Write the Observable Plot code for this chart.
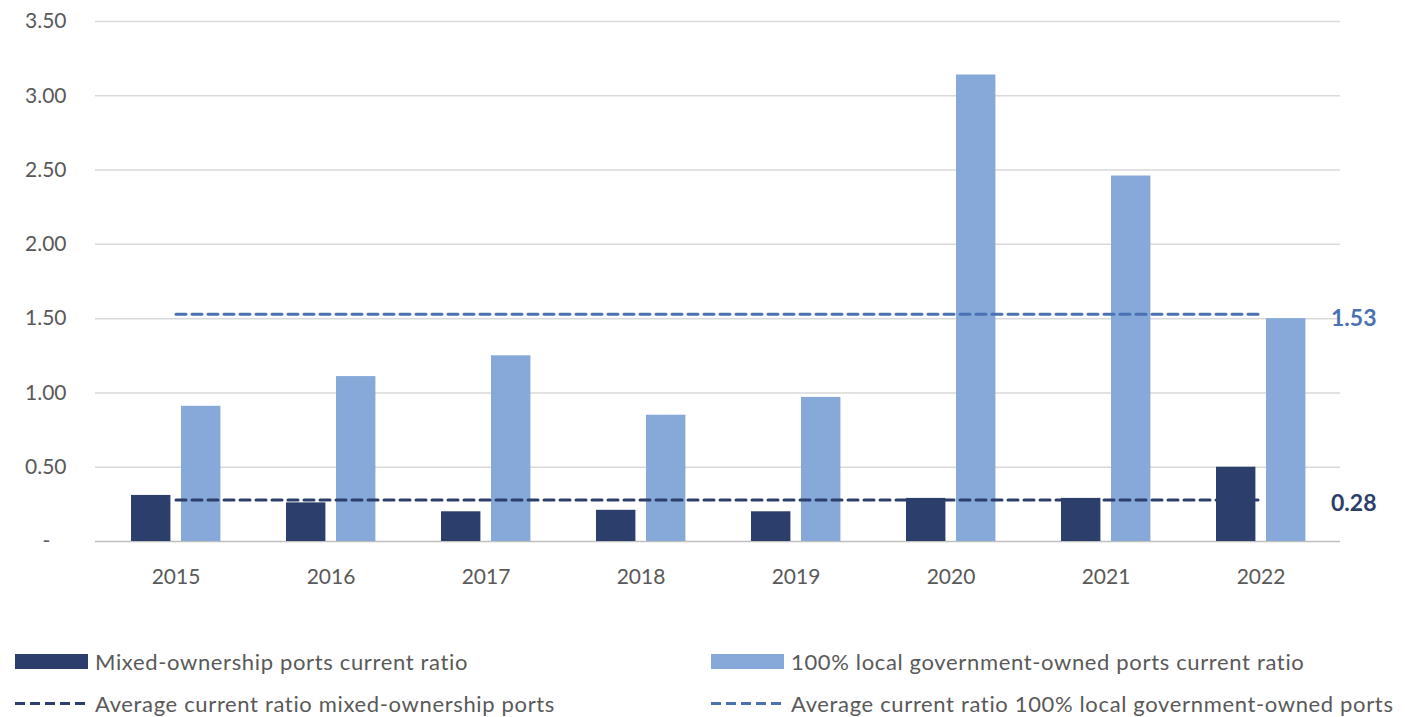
<!DOCTYPE html>
<html>
<head>
<meta charset="utf-8">
<script src="https://cdn.jsdelivr.net/npm/d3@7"></script>
<script src="https://cdn.jsdelivr.net/npm/@observablehq/plot@0.6"></script>
<style>
  body { margin: 0; background: white; font-family: Lato, "Open Sans", sans-serif; }
  #legend { margin-top: 39px; color: #595959; font-size: 22px; letter-spacing: 0.65px; }
  .row { display: flex; height: 42px; align-items: center; }
  .item { display: flex; align-items: center; white-space: nowrap; }
  .item.c1 { margin-left: 15px; width: 696px; }
  .sw { width: 73px; height: 15px; margin-right: 7px; }
  svg.dash { margin-right: 5px; }
</style>
</head>
<body>
<div id="chart"></div>
<div id="legend"></div>
<script>
const years = ["2015", "2016", "2017", "2018", "2019", "2020", "2021", "2022"];
const mixedValues = [0.31, 0.26, 0.20, 0.21, 0.20, 0.29, 0.29, 0.50];
const localValues = [0.91, 1.11, 1.25, 0.85, 0.97, 3.14, 2.46, 1.50];
const avgMixed = 0.28;
const avgLocal = 1.53;
const yTicks = [0, 0.5, 1.0, 1.5, 2.0, 2.5, 3.0, 3.5];
const seriesNames = [
  "Mixed-ownership ports current ratio",
  "100% local government-owned ports current ratio",
  "Average current ratio mixed-ownership ports",
  "Average current ratio 100% local government-owned ports"
];

const darkColor = "#2c3e6b";
const lightColor = "#87a9d9";
const avgLightColor = "#4a72b2";

const mixedData = years.map((year, i) => ({year, value: mixedValues[i]}));
const localData = years.map((year, i) => ({year, value: localValues[i]}));
const avgMixedData = years.map(year => ({year, value: avgMixed}));
const avgLocalData = years.map(year => ({year, value: avgLocal}));
const lastYear = years[years.length - 1];

const chart = Plot.plot({
  width: 1405,
  height: 601,
  marginLeft: 95,
  marginRight: 65,
  marginTop: 21,
  marginBottom: 60,
  style: {fontFamily: "Lato, 'Open Sans', sans-serif", fontSize: "21px", color: "#595959", background: "white"},
  x: {domain: years, padding: 0, label: null, tickSize: 0, tickPadding: 28},
  y: {domain: [0, 3.5], ticks: yTicks, label: null, tickSize: 0, tickPadding: 29,
      tickFormat: d => d === 0 ? "-\u00a0\u00a0\u00a0" : d.toFixed(2)},
  marks: [
    Plot.gridY(yTicks.filter(d => d > 0), {stroke: "#d9d9d9", strokeOpacity: 1, strokeWidth: 1.5}),
    Plot.ruleY([0], {stroke: "#bfbfbf", strokeWidth: 1.5}),
    Plot.barY(mixedData, {x: "year", y: "value", fill: darkColor, insetLeft: 33, insetRight: 82.6}),
    Plot.barY(localData, {x: "year", y: "value", fill: lightColor, insetLeft: 83, insetRight: 32.6}),
    Plot.lineY(avgMixedData, {x: "year", y: "value", stroke: darkColor, strokeWidth: 3, strokeDasharray: "10,6"}),
    Plot.lineY(avgLocalData, {x: "year", y: "value", stroke: avgLightColor, strokeWidth: 3, strokeDasharray: "10,6"}),
    Plot.text([avgLocal], {x: () => lastYear, y: d => d, text: d => d.toFixed(2), textAnchor: "start", dx: 70, dy: 4,
      fill: avgLightColor, fontWeight: "bold", fontSize: 23}),
    Plot.text([avgMixed], {x: () => lastYear, y: d => d, text: d => d.toFixed(2), textAnchor: "start", dx: 70, dy: 4,
      fill: darkColor, fontWeight: "bold", fontSize: 23})
  ]
});
document.getElementById("chart").appendChild(chart);

function swatch(color) {
  return `<span class="sw" style="background:${color}"></span>`;
}
function dash(color) {
  return `<svg class="dash" width="75" height="15"><line x1="0" x2="75" y1="7.5" y2="7.5" stroke="${color}" stroke-width="3" stroke-dasharray="10,5"/></svg>`;
}
document.getElementById("legend").innerHTML = `
  <div class="row">
    <div class="item c1">${swatch(darkColor)}<span>${seriesNames[0]}</span></div>
    <div class="item">${swatch(lightColor)}<span>${seriesNames[1]}</span></div>
  </div>
  <div class="row">
    <div class="item c1">${dash(darkColor)}<span>${seriesNames[2]}</span></div>
    <div class="item">${dash(avgLightColor)}<span>${seriesNames[3]}</span></div>
  </div>`;
</script>
</body>
</html>
